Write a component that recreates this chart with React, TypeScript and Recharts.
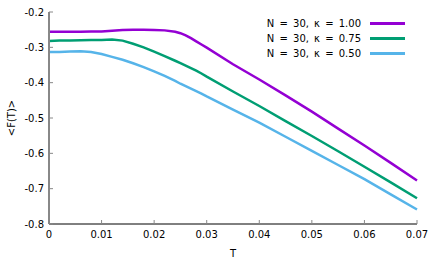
import React from "react";
import { LineChart, Line, XAxis, YAxis, Legend } from "recharts";

// temperature grid shared by all three curves
const T = [
  0, 0.002, 0.004, 0.006, 0.008, 0.01, 0.012, 0.014, 0.016, 0.018, 0.02, 0.022, 0.024, 0.025,
  0.026, 0.027, 0.028, 0.029, 0.03, 0.035, 0.04, 0.045, 0.05, 0.055, 0.06, 0.065, 0.07,
];

const F_K100 = [
  -0.256, -0.256, -0.256, -0.256, -0.255, -0.255, -0.253, -0.251, -0.25, -0.25, -0.251, -0.252,
  -0.256, -0.26, -0.266, -0.274, -0.283, -0.292, -0.301, -0.348, -0.391, -0.436, -0.482, -0.53,
  -0.578, -0.627, -0.677,
];

const F_K075 = [
  -0.282, -0.281, -0.281, -0.28, -0.279, -0.279, -0.278, -0.281, -0.29, -0.3, -0.312, -0.325,
  -0.338, -0.345, -0.352, -0.359, -0.366, -0.374, -0.383, -0.425, -0.466, -0.509, -0.551, -0.594,
  -0.638, -0.682, -0.727,
];

const F_K050 = [
  -0.313, -0.313, -0.312, -0.311, -0.313, -0.319, -0.327, -0.335, -0.345, -0.356, -0.368, -0.381,
  -0.395, -0.403, -0.41, -0.417, -0.424, -0.431, -0.439, -0.476, -0.513, -0.553, -0.593, -0.633,
  -0.673, -0.716, -0.759,
];

const X_TICKS = [0, 0.01, 0.02, 0.03, 0.04, 0.05, 0.06, 0.07];
const Y_TICKS = [-0.8, -0.7, -0.6, -0.5, -0.4, -0.3, -0.2];

const SERIES = [
  { key: "k100", name: "N = 30, κ = 1.00", color: "#9400d3", values: F_K100 },
  { key: "k075", name: "N = 30, κ = 0.75", color: "#009e73", values: F_K075 },
  { key: "k050", name: "N = 30, κ = 0.50", color: "#56b4e9", values: F_K050 },
];

const data = T.map((t, i) => {
  const row: Record<string, number> = { t };
  SERIES.forEach((s) => (row[s.key] = s.values[i]));
  return row;
});

const FONT = "DejaVu Sans";
const TICK = { fill: "#000", fontSize: 10, fontFamily: FONT };

function KeyBox() {
  return (
    <div style={{ fontFamily: FONT, fontSize: 10, color: "#000" }}>
      {SERIES.map((s) => (
        <div
          key={s.key}
          style={{ display: "flex", justifyContent: "flex-end", alignItems: "center", height: 15 }}
        >
          <span style={{ whiteSpace: "pre", wordSpacing: 2 }}>{s.name}</span>
          <span
            style={{ display: "inline-block", width: 35, height: 3, background: s.color, marginLeft: 9 }}
          />
        </div>
      ))}
    </div>
  );
}

export default function App() {
  return (
    <div style={{ position: "absolute", left: 0, top: 0, background: "#fff" }}>
      <LineChart width={436} height={262} data={data} margin={{ top: 12, right: 19, bottom: 0, left: 0 }}>
        <XAxis
          dataKey="t"
          type="number"
          domain={[0, 0.07]}
          ticks={X_TICKS}
          tickFormatter={(v: number) => (v === 0 ? "0" : v.toFixed(2))}
          tick={TICK}
          height={38}
          tickSize={-4}
          tickMargin={11}
          axisLine={{ stroke: "#000" }}
          tickLine={{ stroke: "#888" }}
          label={{ value: "T", position: "insideBottom", offset: 5, fill: "#000", fontSize: 10, fontFamily: FONT }}
        />
        <XAxis
          xAxisId="top"
          orientation="top"
          type="number"
          domain={[0, 0.07]}
          ticks={X_TICKS}
          tick={false}
          height={0}
          tickSize={-4}
          axisLine={{ stroke: "#000" }}
          tickLine={{ stroke: "#888" }}
        />
        <YAxis
          type="number"
          domain={[-0.8, -0.2]}
          ticks={Y_TICKS}
          tickFormatter={(v: number) => v.toFixed(1)}
          tick={TICK}
          width={49}
          tickSize={-4}
          tickMargin={9}
          axisLine={{ stroke: "#888", strokeWidth: 2 }}
          tickLine={{ stroke: "#888" }}
          label={{
            value: "<F(T)>",
            angle: -90,
            position: "insideLeft",
            offset: 11,
            fill: "#000",
            fontSize: 10,
            fontFamily: FONT,
            style: { textAnchor: "middle" },
          }}
        />
        <YAxis
          yAxisId="right"
          orientation="right"
          type="number"
          domain={[-0.8, -0.2]}
          ticks={Y_TICKS}
          tick={false}
          width={0}
          tickSize={-4}
          axisLine={{ stroke: "#000" }}
          tickLine={{ stroke: "#888" }}
        />
        <Legend
          layout="vertical"
          align="center"
          verticalAlign="middle"
          content={() => <KeyBox />}
          wrapperStyle={{ top: 16, left: 239, width: 166 }}
        />
        {SERIES.map((s) => (
          <Line
            key={s.key}
            dataKey={s.key}
            name={s.name}
            type="linear"
            stroke={s.color}
            strokeWidth={2.5}
            dot={false}
            isAnimationActive={false}
          />
        ))}
      </LineChart>
    </div>
  );
}
